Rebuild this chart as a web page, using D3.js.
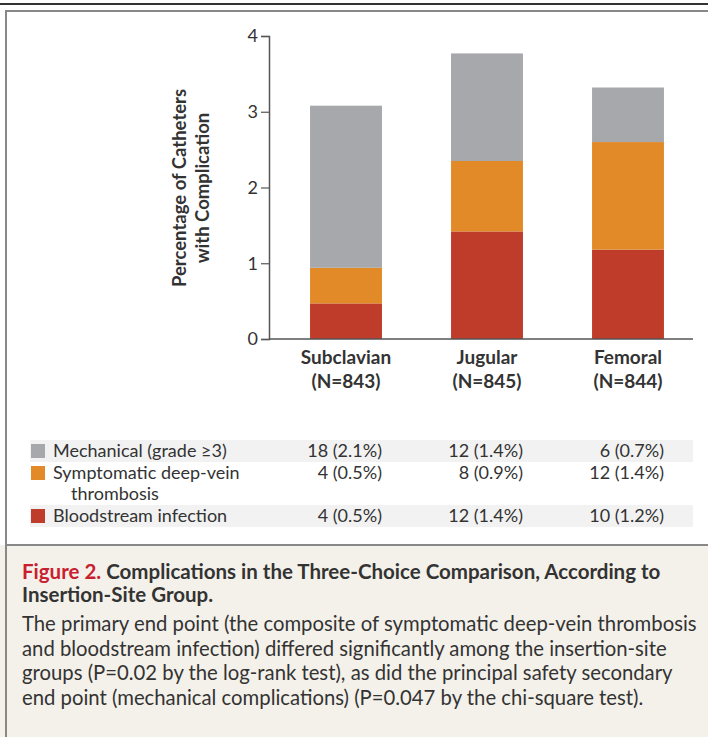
<!DOCTYPE html>
<html>
<head>
<meta charset="utf-8">
<script src="https://cdn.jsdelivr.net/npm/d3@7"></script>
<style>
  html, body { margin: 0; padding: 0; background: #fff; }
  svg { display: block; font-family: Lato, "Open Sans", sans-serif; }
</style>
</head>
<body>
<div id="chart"></div>
<script>
// chart data
const sites = ["Subclavian", "Jugular", "Femoral"];
const siteN = ["(N=843)", "(N=845)", "(N=844)"];
const yTicks = [0, 1, 2, 3, 4];

// stacked from the bottom: bloodstream, dvt, mechanical (percent)
const bloodstream = [0.47, 1.42, 1.18];
const dvt = [0.47, 0.93, 1.42];
const mechanical = [2.14, 1.42, 0.72];

// table below the chart
const tableLabels = [["Mechanical (grade \u22653)"], ["Symptomatic deep-vein", "thrombosis"], ["Bloodstream infection"]];
const mechanicalCounts = ["18 (2.1%)", "12 (1.4%)", "6 (0.7%)"];
const dvtCounts = ["4 (0.5%)", "8 (0.9%)", "12 (1.4%)"];
const bloodstreamCounts = ["4 (0.5%)", "12 (1.4%)", "10 (1.2%)"];

const captionTitle = ["Complications in the Three-Choice Comparison, According to", "Insertion-Site Group."];
const captionBody = [
  "The primary end point (the composite of symptomatic deep-vein thrombosis",
  "and bloodstream infection) differed significantly among the insertion-site",
  "groups (P=0.02 by the log-rank test), as did the principal safety secondary",
  "end point (mechanical complications) (P=0.047 by the chi-square test)."
];

const colors = { mech: "#a7a8ab", dvt: "#e18a27", bsi: "#bf3b2a" };

const width = 708, height = 737;
const svg = d3.select("#chart").append("svg")
  .attr("width", width)
  .attr("height", height);

// frame
svg.append("line").attr("x1", 0).attr("x2", width).attr("y1", 4).attr("y2", 4)
  .attr("stroke", "#333").attr("stroke-width", 2);
svg.append("rect").attr("x", 0).attr("y", 545).attr("width", width).attr("height", height - 545)
  .attr("fill", "#f4f1ea");
svg.append("line").attr("x1", 6).attr("x2", 6).attr("y1", 10).attr("y2", height)
  .attr("stroke", "#888").attr("stroke-width", 2);
svg.append("line").attr("x1", 5).attr("x2", width).attr("y1", 11).attr("y2", 11)
  .attr("stroke", "#888").attr("stroke-width", 2);
svg.append("line").attr("x1", 5).attr("x2", width).attr("y1", 545).attr("y2", 545)
  .attr("stroke", "#888").attr("stroke-width", 2);

// scales
const axisX = 269;
const y = d3.scaleLinear().domain([0, 4]).range([339, 36]);
const x = d3.scaleBand().domain(sites).range([275.5, 698.5])
  .paddingInner(0.49).paddingOuter(0.245);

const stackData = sites.map((s, i) => ({ site: s, bsi: bloodstream[i], dvt: dvt[i], mech: mechanical[i] }));
const stack = d3.stack().keys(["bsi", "dvt", "mech"])(stackData);

svg.append("g")
  .selectAll("g")
  .data(stack)
  .join("g")
    .attr("fill", d => colors[d.key])
  .selectAll("rect")
  .data(d => d)
  .join("rect")
    .attr("x", d => x(d.data.site))
    .attr("width", x.bandwidth())
    .attr("y", d => y(d[1]))
    .attr("height", d => y(d[0]) - y(d[1]));

// y axis
const yAxis = svg.append("g")
  .attr("transform", `translate(${axisX},0)`)
  .call(d3.axisLeft(y).tickValues(yTicks).tickSize(8).tickPadding(3).tickFormat(d3.format("d")));
yAxis.select(".domain").attr("stroke", "#555").attr("stroke-width", 1.5);
yAxis.selectAll(".tick line").attr("stroke", "#555").attr("stroke-width", 1.2);
yAxis.selectAll("text")
  .attr("fill", "#333")
  .style("font-size", "18px")
  .style("font-family", "Lato, sans-serif");

// x baseline
svg.append("line")
  .attr("x1", axisX).attr("x2", 693)
  .attr("y1", y(0)).attr("y2", y(0))
  .attr("stroke", "#555").attr("stroke-width", 1.5);

// x labels
const xl = svg.append("g").selectAll("text")
  .data(sites)
  .join("text")
    .attr("text-anchor", "middle")
    .attr("fill", "#333")
    .style("font-size", "19px")
    .style("font-weight", "bold")
    .attr("x", d => x(d) + x.bandwidth() / 2)
    .attr("y", 364);
xl.append("tspan").text(d => d);
xl.append("tspan")
  .attr("x", d => x(d) + x.bandwidth() / 2)
  .attr("dy", 24)
  .text((d, i) => siteN[i]);

// y title
svg.append("text")
  .attr("transform", "translate(186,188) rotate(-90)")
  .attr("text-anchor", "middle")
  .attr("fill", "#333")
  .style("font-size", "18.5px")
  .style("font-weight", "bold")
  .call(t => {
    t.append("tspan").attr("x", 0).attr("dy", 0).text("Percentage of Catheters");
    t.append("tspan").attr("x", 0).attr("dy", 23).text("with Complication");
  });

// table
const rows = [
  { key: "mech", label: tableLabels[0], counts: mechanicalCounts, top: 440, h: 22, shade: true },
  { key: "dvt", label: tableLabels[1], counts: dvtCounts, top: 462, h: 43, shade: false },
  { key: "bsi", label: tableLabels[2], counts: bloodstreamCounts, top: 505, h: 22, shade: true }
];
const rowG = svg.append("g").selectAll("g")
  .data(rows)
  .join("g")
    .attr("transform", d => `translate(0,${d.top})`);
rowG.filter(d => d.shade).append("rect")
  .attr("x", 30).attr("width", 663).attr("height", d => d.h)
  .attr("fill", "#f2f2f2");
rowG.append("rect")
  .attr("x", 31).attr("y", 4).attr("width", 14).attr("height", 14)
  .attr("fill", d => colors[d.key]);
rowG.each(function(d) {
  const g = d3.select(this);
  d.label.forEach((line, j) => {
    g.append("text")
      .attr("x", j === 0 ? 53 : 71)
      .attr("y", 17 + j * 21)
      .attr("fill", "#333")
      .style("font-size", "18px")
      .text(line);
  });
  d.counts.forEach((c, j) => {
    g.append("text")
      .attr("x", x(sites[j]) + x.bandwidth())
      .attr("y", 17)
      .attr("text-anchor", "end")
      .attr("fill", "#333")
      .style("font-size", "18px")
      .text(c);
  });
});

// caption
const cap = svg.append("g");
cap.append("text")
  .attr("x", 22).attr("y", 579)
  .style("font-size", "20.5px")
  .style("font-weight", "bold")
  .attr("fill", "#333")
  .call(t => {
    t.append("tspan").attr("fill", "#c8202f").text("Figure 2. ");
    t.append("tspan").text(captionTitle[0]);
  });
cap.append("text")
  .attr("x", 22).attr("y", 602)
  .style("font-size", "20.5px")
  .style("font-weight", "bold")
  .attr("fill", "#333")
  .text(captionTitle[1]);
cap.selectAll("text.body")
  .data(captionBody)
  .join("text")
    .attr("class", "body")
    .attr("x", 22)
    .attr("y", (d, i) => 631 + i * 24.7)
    .style("font-size", "20.3px")
    .attr("fill", "#333")
    .text(d => d);
</script>
</body>
</html>
